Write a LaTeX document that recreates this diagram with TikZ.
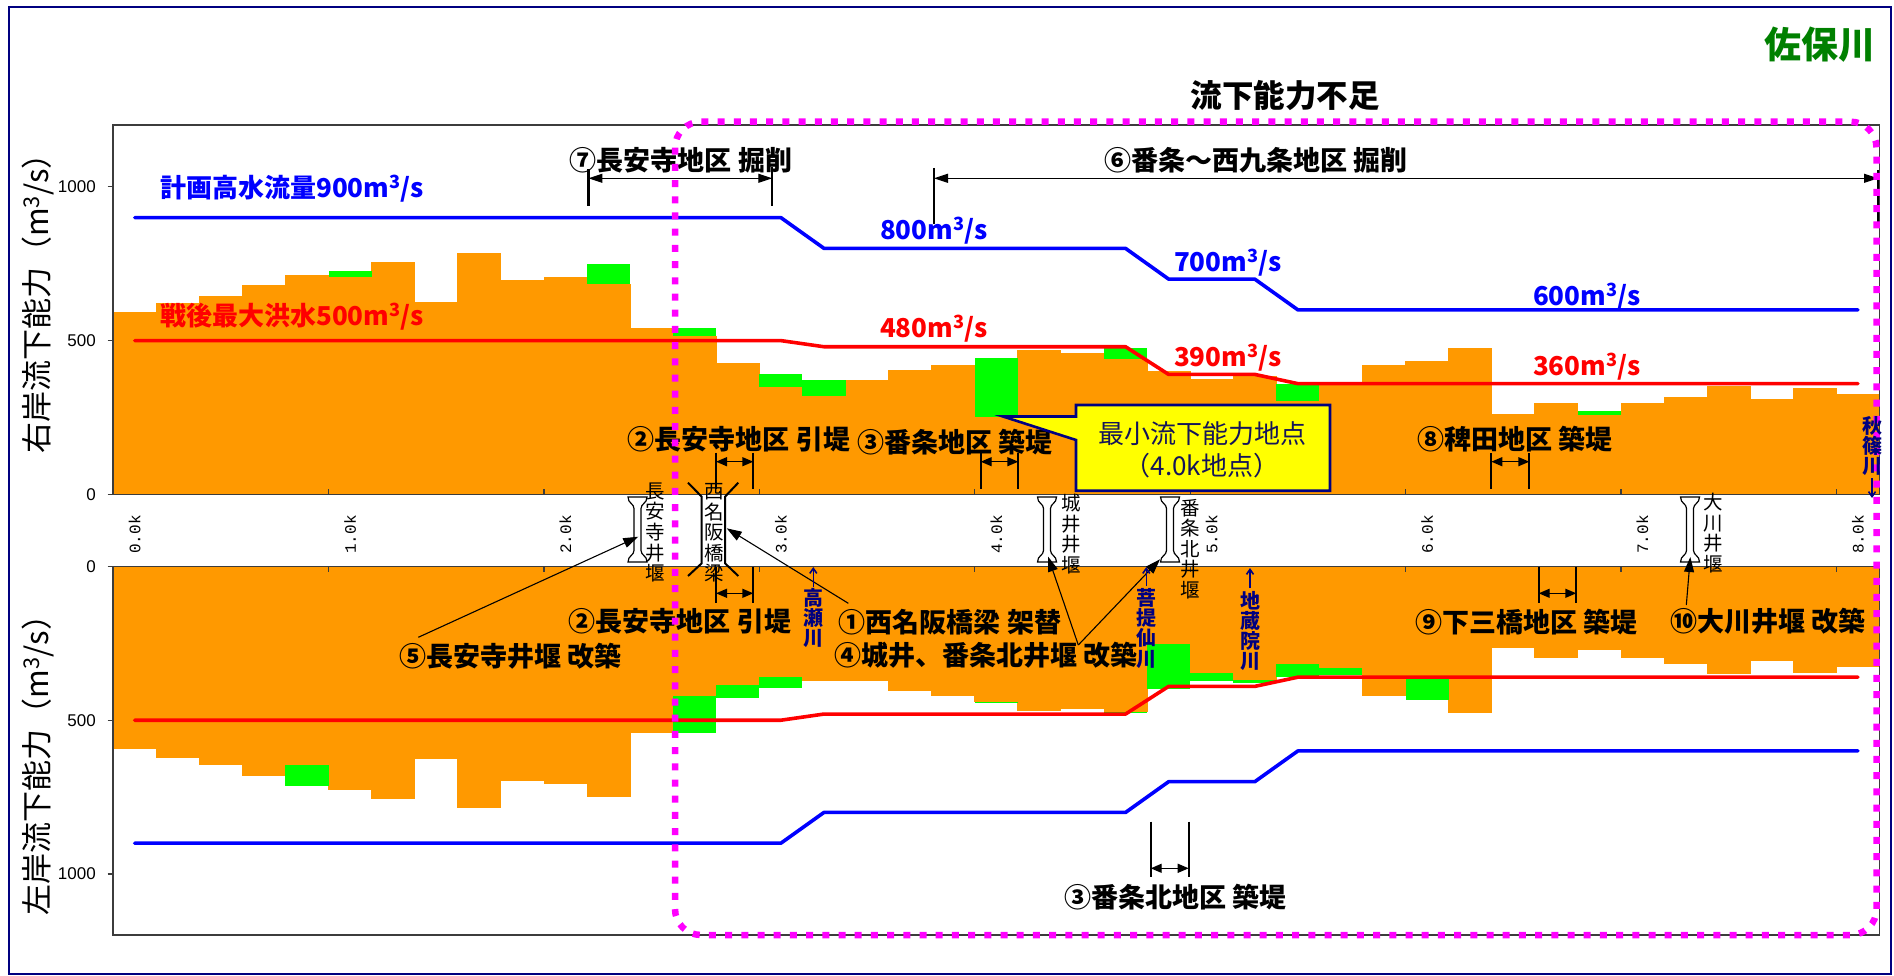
\documentclass[tikz,border=0pt]{standalone}
\usepackage{fontspec}
\setmainfont{Noto Sans CJK JP}
\newfontfamily\numfont{Liberation Sans}
\newfontfamily\kmfont{Liberation Mono}
\usetikzlibrary{arrows.meta}
\definecolor{orC}{RGB}{255,153,0}
\definecolor{grC}{RGB}{0,255,0}
\definecolor{blC}{RGB}{0,0,255}
\definecolor{rdC}{RGB}{255,0,0}
\definecolor{mgC}{RGB}{255,0,255}
\definecolor{ylC}{RGB}{255,255,0}
\definecolor{nvC}{RGB}{0,0,128}
\definecolor{ttlC}{RGB}{0,128,0}
\definecolor{axC}{RGB}{60,60,60}
\definecolor{boxtxtC}{RGB}{20,20,90}
\begin{document}
\begin{tikzpicture}[x=1pt,y=-1pt,
  lbl/.style={font=\bfseries\fontsize{27}{30}\selectfont,inner sep=0pt},
  val/.style={font=\bfseries\fontsize{26}{28}\selectfont,inner sep=0pt},
  axlab/.style={font=\numfont\fontsize{17}{18}\selectfont,inner sep=0pt,anchor=east},
  kmlab/.style={font=\kmfont\fontsize{16}{18}\selectfont,inner sep=0pt,rotate=90},
  vtxt/.style={font=\fontsize{19.5}{20.6}\selectfont,align=center,inner sep=0pt},
  riv/.style={font=\bfseries\fontsize{20}{20.3}\selectfont,align=center,inner sep=0pt,text=nvC},
  ytitle/.style={font=\fontsize{31}{33}\selectfont,inner sep=0pt,rotate=90},
  dimtick/.style={line width=2pt},
  dimbar/.style={line width=1.4pt,{Triangle[length=11pt,width=9pt]}-{Triangle[length=11pt,width=9pt]}},
  bigtick/.style={line width=2.2pt},
  bigbar/.style={line width=1.2pt,{Triangle[length=14pt,width=9pt]}-{Triangle[length=14pt,width=9pt]}},
  ptr/.style={line width=1.1pt,-{Triangle[length=15pt,width=10pt]}},
  rivarr/.style={line width=1.6pt,draw=nvC,-{Straight Barb[length=5pt,width=7pt]}},
  weirbody/.style={draw=black,fill=white,line width=1.2pt},
  bridge/.style={line width=2pt,draw=black},
  bluel/.style={draw=blC,line width=3.6pt,line join=round,line cap=round},
  redl/.style={draw=rdC,line width=3.6pt,line join=round,line cap=round},
  frameax/.style={draw=axC,line width=1.6pt},
  weir/.pic={\path[weirbody] (-9.5,-32.5) -- (9.5,-32.5) .. controls (9.5,-26) and (3.5,-26) .. (3.5,-21) -- (3.5,21) .. controls (3.5,26) and (9.5,26) .. (9.5,32.5) -- (-9.5,32.5) .. controls (-9.5,26) and (-3.5,26) .. (-3.5,21) -- (-3.5,-21) .. controls (-3.5,-26) and (-9.5,-26) .. (-9.5,-32.5) -- cycle;}
]
\useasboundingbox (0,0) rectangle (1894,976);
\fill[white] (0,0) rectangle (1894,976);

% ---------- upper plot (right bank) ----------
\begin{scope}[shift={(134.7pt,-494.3pt)},x=215.4pt,y=0.3074pt]
  \foreach \v [count=\i from 0] in {593,621,645,681,713,708,756,626,785,697,706,685,541,515,428,350,321,372,404,421,250,469,461,440,402,374,385,305,356,421,435,476,261,296,258,296,318,352,309,347,326}
    \fill[orC] ({\i*0.2-0.102},0) rectangle ({\i*0.2+0.102},\v);
  \foreach \i/\a/\b in {5/708/726,11/685/749,13/515/540,15/350/391,16/321/372,20/250/442,23/440/476,27/305/359,34/258/271}
    \fill[grC] ({\i*0.2-0.1},\a) rectangle ({\i*0.2+0.1},\b);
  \draw[bluel] (0,900) -- (3,900) -- (3.2,800) -- (4.6,800) -- (4.8,700) -- (5.2,700) -- (5.4,600) -- (8,600);
  \draw[redl] (0,500) -- (3,500) -- (3.2,480) -- (4.6,480) -- (4.8,390) -- (5.2,390) -- (5.4,360) -- (8,360);
\end{scope}

% ---------- lower plot (left bank) ----------
\begin{scope}[shift={(134.7pt,-566.5pt)},x=215.4pt,y=-0.3074pt]
  \foreach \v [count=\i from 0] in {594,623,646,682,647,727,757,627,786,698,708,749,542,422,385,361,373,373,405,422,440,470,462,473,253,345,370,316,329,421,365,476,264,297,272,297,318,351,308,346,328}
    \fill[orC] ({\i*0.2-0.102},0) rectangle ({\i*0.2+0.102},\v);
  \foreach \i/\a/\b in {4/647/715,13/422/542,14/385/427,15/361/395,20/440/444,23/473/478,24/253/400,25/345/372,26/370/379,27/316/359,28/329/354,30/365/435}
    \fill[grC] ({\i*0.2-0.1},\a) rectangle ({\i*0.2+0.1},\b);
  \draw[bluel] (0,900) -- (3,900) -- (3.2,800) -- (4.6,800) -- (4.8,700) -- (5.2,700) -- (5.4,600) -- (8,600);
  \draw[redl] (0,500) -- (3,500) -- (3.2,480) -- (4.6,480) -- (4.8,390) -- (5.2,390) -- (5.4,360) -- (8,360);
\end{scope}

% ---------- plot frames and ticks ----------
\draw[frameax] (113.2,125) rectangle (1879.4,494.3);
\draw[frameax] (113.2,566.5) rectangle (1879.4,935);
\foreach \k in {0.9,1.9,2.9,3.9,4.9,5.9,6.9,7.9}{
  \draw[axC,line width=1.2pt] ({134.7+215.4*\k},494.3) -- ++(0,-5);
  \draw[axC,line width=1.2pt] ({134.7+215.4*\k},566.5) -- ++(0,5);
}
\foreach \yy in {186.6,340.5,494.3,566.5,720.2,874}
  \draw[axC,line width=1.2pt] (107.5,\yy) -- (113.2,\yy);
\node[axlab] (u1000) at (96,186.6) {1000};
\node[axlab] (u500) at (96,340.5) {500};
\node[axlab] (u0) at (96,494.3) {0};
\node[axlab] (l0) at (96,566.5) {0};
\node[axlab] (l500) at (96,720.2) {500};
\node[axlab] (l1000) at (96,874) {1000};
\foreach \k in {0,1,2,3,4,5,6,7,8}
  \node[kmlab] (km\k) at ({134.7+215.4*\k},534.5) {\k.0k};

\node[ytitle] (ytu) at (38,296) {右岸流下能力（m\textsuperscript{3}/s）};
\node[ytitle] (ytl) at (38,757.5) {左岸流下能力（m\textsuperscript{3}/s）};

% ---------- line labels ----------
\node[val,text=blC,anchor=west] (lbPlan) at (160,188.5) {計画高水流量900m\textsuperscript{3}/s};
\node[val,text=rdC,anchor=west] (lbFlood) at (160,316.5) {戦後最大洪水500m\textsuperscript{3}/s};
\node[val,text=blC] (lb800) at (934,230.5) {800m\textsuperscript{3}/s};
\node[val,text=blC] (lb700) at (1228,262.5) {700m\textsuperscript{3}/s};
\node[val,text=blC] (lb600) at (1587,297) {600m\textsuperscript{3}/s};
\node[val,text=rdC] (lb480) at (934,329) {480m\textsuperscript{3}/s};
\node[val,text=rdC] (lb390) at (1228,357.5) {390m\textsuperscript{3}/s};
\node[val,text=rdC] (lb360) at (1587,367) {360m\textsuperscript{3}/s};

% ---------- title texts ----------
\node[font=\bfseries\fontsize{37}{40}\selectfont,text=ttlC,inner sep=0pt] (ttl) at (1820,45) {佐保川};
\node[font=\bfseries\fontsize{31.5}{34}\selectfont,inner sep=0pt] (short) at (1285,96) {流下能力不足};

% ---------- upper dimension markers ----------
\node[lbl] (n7) at (681,160) {⑦長安寺地区 掘削};
\coordinate (d7a) at (588.4,178.3);
\coordinate (d7b) at (772.3,178.3);
\draw[bigtick] (588.4,169) -- (588.4,206);
\draw[bigtick] (772.3,167) -- (772.3,206);
\draw[bigbar] (d7a) -- (d7b);

\node[lbl] (n6) at (1256,160) {⑥番条～西九条地区 掘削};
\coordinate (d6a) at (934,178.3);
\coordinate (d6b) at (1878,178.3);
\draw[bigtick] (934,168) -- (934,224);
\draw[bigtick] (1878,170) -- (1878,225);
\draw[bigbar] (d6a) -- (d6b);

\node[lbl] (n2u) at (739,439) {②長安寺地区 引堤};
\coordinate (d2ua) at (716,461.7);
\coordinate (d2ub) at (753.3,461.7);
\draw[dimtick] (716,452.7) -- (716,489);
\draw[dimtick] (753.3,452.7) -- (753.3,489);
\draw[dimbar] (d2ua) -- (d2ub);

\node[lbl] (n3u) at (955,442.5) {③番条地区 築堤};
\coordinate (d3ua) at (980.7,461.7);
\coordinate (d3ub) at (1018.3,461.7);
\draw[dimtick] (980.7,453) -- (980.7,489);
\draw[dimtick] (1018.3,453) -- (1018.3,489);
\draw[dimbar] (d3ua) -- (d3ub);

\node[lbl] (n8) at (1515,439) {⑧稗田地区 築堤};
\coordinate (d8a) at (1491.3,461.7);
\coordinate (d8b) at (1529.3,461.7);
\draw[dimtick] (1491.3,453) -- (1491.3,489);
\draw[dimtick] (1529.3,453) -- (1529.3,489);
\draw[dimbar] (d8a) -- (d8b);

% ---------- callout box ----------
\path[fill=ylC,draw=nvC,line width=2.6pt,line join=miter]
  (1076,405) -- (1330,405) -- (1330,490.7) -- (1076,490.7) -- (1076,440) -- (1003,416.5) -- (1076,416.5) -- cycle;
\node[font=\fontsize{26}{32}\selectfont,text=boxtxtC,align=center,inner sep=0pt] (mintxt) at (1202,450) {最小流下能力地点\\（4.0k地点）};

% ---------- lower dimension markers ----------
\node[lbl] (n2l) at (680,621.7) {②長安寺地区 引堤};
\coordinate (d2la) at (716,593.3);
\coordinate (d2lb) at (753.3,593.3);
\draw[dimtick] (716,566.7) -- (716,602.7);
\draw[dimtick] (753.3,566.7) -- (753.3,602.7);
\draw[dimbar] (d2la) -- (d2lb);

\node[lbl] (n9) at (1526.7,621.7) {⑨下三橋地区 築堤};
\coordinate (d9a) at (1538.7,593.3);
\coordinate (d9b) at (1576.3,593.3);
\draw[dimtick] (1538.7,566.7) -- (1538.7,602.7);
\draw[dimtick] (1576.3,566.7) -- (1576.3,602.7);
\draw[dimbar] (d9a) -- (d9b);

\node[lbl] (n3l) at (1175.5,896.7) {③番条北地区 築堤};
\coordinate (d3la) at (1150.7,868.3);
\coordinate (d3lb) at (1188.7,868.3);
\draw[dimtick] (1150.7,821.7) -- (1150.7,877.3);
\draw[dimtick] (1188.7,821.7) -- (1188.7,877.3);
\draw[dimbar] (d3la) -- (d3lb);

\node[lbl] (n1) at (950,621.7) {①西名阪橋梁 架替};
\node[lbl] (n5) at (510.3,656.5) {⑤長安寺井堰 改築};
\node[lbl] (n4) at (986,655) {④城井、番条北井堰 改築};
\node[lbl] (n10) at (1768,621.7) {⑩大川井堰 改築};

% ---------- weirs and bridge ----------
\pic (wA) at (637.5,529.5) {weir};
\pic (wB) at (1047,529.5) {weir};
\pic (wC) at (1170,529.5) {weir};
\pic (wD) at (1690,529.5) {weir};
\node[vtxt] (tA) at (655,532.5) {長\\安\\寺\\井\\堰};
\node[vtxt] (tBr) at (714,533) {西\\名\\阪\\橋\\梁};
\node[vtxt] (tB) at (1071,534) {城\\井\\井\\堰};
\node[vtxt] (tC) at (1190.3,549) {番\\条\\北\\井\\堰};
\node[vtxt] (tD) at (1713,533.3) {大\\川\\井\\堰};
\draw[bridge] (688,482.7) -- (701.7,496.7) -- (701.7,563.3) -- (688,576);
\draw[bridge] (738.3,482.7) -- (725,496.7) -- (725,563.3) -- (738.3,576);

% ---------- pointers ----------
\coordinate (p5s) at (418.3,637.3);
\coordinate (p5e) at (638.3,536.7);
\draw[ptr] (p5s) -- (p5e);
\coordinate (p1s) at (848.3,603.3);
\coordinate (p1e) at (726.7,528.3);
\draw[ptr] (p1s) -- (p1e);
\coordinate (p4s) at (1078.3,645);
\coordinate (p4a) at (1048,556.5);
\coordinate (p4b) at (1160,559.3);
\draw[ptr] (p4s) -- (p4a);
\draw[ptr] (p4s) -- (p4b);
\coordinate (p10s) at (1686.3,605);
\coordinate (p10e) at (1690.3,557);
\draw[ptr] (p10s) -- (p10e);

% ---------- tributaries ----------
\node[riv] (rTak) at (813.3,618) {高\\瀬\\川};
\node[riv] (rBod) at (1146.3,628.3) {菩\\提\\仙\\川};
\node[riv] (rJiz) at (1250,631) {地\\蔵\\院\\川};
\coordinate (aTak1) at (813.3,587); \coordinate (aTak2) at (813.3,567);
\coordinate (aBod1) at (1146.3,586); \coordinate (aBod2) at (1146.3,567);
\coordinate (aJiz1) at (1250,588); \coordinate (aJiz2) at (1250,568);
\draw[rivarr] (aTak1) -- (aTak2);
\draw[rivarr] (aBod1) -- (aBod2);
\draw[rivarr] (aJiz1) -- (aJiz2);

% ---------- deficiency zone ----------
\draw[mgC,line width=6.5pt,dash pattern=on 7pt off 9.2pt,rounded corners=26pt] (675,121.7) rectangle (1876.5,935);

\node[riv] (rAki) at (1872,446) {秋\\篠\\川};
\coordinate (aAki1) at (1872,478); \coordinate (aAki2) at (1872,498);
\draw[rivarr] (aAki1) -- (aAki2);

% ---------- outer frame ----------
\draw[nvC,line width=2pt] (9,7.5) rectangle (1890.5,973.5);
\end{tikzpicture}
\end{document}
